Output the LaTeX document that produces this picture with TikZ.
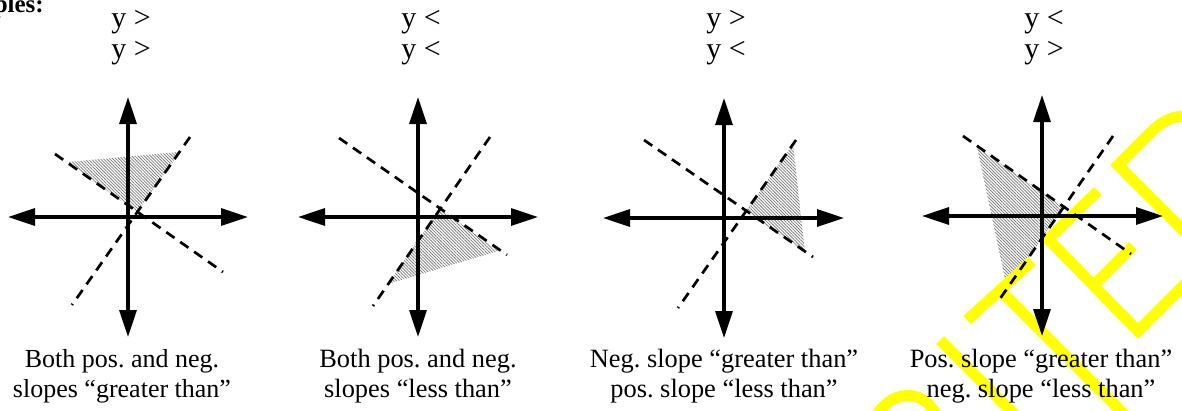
\documentclass[tikz,border=0pt]{standalone}
\usepackage{fontspec}
\setmainfont{Liberation Serif}
\usetikzlibrary{arrows.meta,patterns.meta}
\definecolor{stamp}{RGB}{255,255,0}
\frenchspacing
\begin{document}
\begin{tikzpicture}[x=1pt,y=1pt,
 axis/.style={line width=3.2pt,{Triangle[length=27pt,width=17pt]}-{Triangle[length=27pt,width=17pt]}},
 dline/.style={line width=2.7pt,dash pattern=on 10pt off 7pt},
 hatch/.style={pattern={Lines[angle=-45,distance=2.2pt,line width=0.8pt]},pattern color=black!50},
 ystroke/.style={draw=stamp,line width=11pt},
 toplbl/.style={font=\fontsize{30}{34}\selectfont,anchor=base,inner sep=0pt},
 capt/.style={font=\fontsize{26.4}{30}\selectfont,anchor=base,inner sep=0pt}]
\useasboundingbox (0,0) rectangle (1182,-410);
\clip (0,0) rectangle (1182,-410);
% shaded regions
\fill[hatch] (67,-162) -- (180,-152) -- (137,-212) -- cycle;
\fill[hatch] (440,-208.5) -- (498,-251) -- (388,-284) -- cycle;
\fill[hatch] (746,-211) -- (793,-144) -- (805,-252) -- cycle;
\fill[hatch] (977,-147) -- (1064,-207) -- (1007,-288) -- cycle;
% stamp
\draw[ystroke] (1240,-287) -- (1118,-165) -- (1152,-131) .. controls (1165,-118) and (1180,-113) .. (1198,-118);
\draw[ystroke] (1098,-191) -- (1048,-239) -- (1138,-331) -- (1200,-269);
\draw[ystroke] (1094,-285) -- (1133,-246);
\draw[ystroke] (967,-320) -- (1032,-261);
\draw[ystroke] (1000,-290) -- (1130,-420);
\draw[ystroke] (940,-340) -- (1020,-420);
\draw[ystroke] (876,-416) .. controls (890,-392) and (920,-386) .. (936,-414);
% coordinates
\coordinate (n1a) at (55,-154); \coordinate (n1b) at (223,-272);
\coordinate (q1a) at (190,-137); \coordinate (q1b) at (72,-305);
\coordinate (n2a) at (339,-138); \coordinate (n2b) at (507,-255);
\coordinate (q2a) at (490,-137); \coordinate (q2b) at (373,-306);
\coordinate (n3a) at (644,-140); \coordinate (n3b) at (813,-257);
\coordinate (q3a) at (796,-140); \coordinate (q3b) at (678,-308);
\coordinate (n4a) at (963,-136); \coordinate (n4b) at (1131,-254);
\coordinate (q4a) at (1113,-136); \coordinate (q4b) at (997,-303);
\coordinate (a1l) at (8,-217); \coordinate (a1r) at (248,-217);
\coordinate (a1t) at (128,-97); \coordinate (a1b) at (128,-337);
\coordinate (a2l) at (298,-217); \coordinate (a2r) at (538,-217);
\coordinate (a2t) at (418,-97); \coordinate (a2b) at (418,-337);
\coordinate (a3l) at (603,-218); \coordinate (a3r) at (844,-218);
\coordinate (a3t) at (724,-98); \coordinate (a3b) at (724,-338);
\coordinate (a4l) at (922,-216); \coordinate (a4r) at (1163,-216);
\coordinate (a4t) at (1042,-95); \coordinate (a4b) at (1042,-336);
% dashed boundary lines
\foreach \i in {1,2,3,4}{
  \draw[dline] (n\i a) -- (n\i b);
  \draw[dline] (q\i a) -- (q\i b);
}
% axes
\foreach \i in {1,2,3,4}{
  \draw[axis] (a\i l) -- (a\i r);
  \draw[axis] (a\i t) -- (a\i b);
}
% texts
\node[font=\fontsize{25}{29}\selectfont\bfseries,anchor=base east,inner sep=0pt] (ex) at (44,-12) {Examples:};
\node[toplbl] (t1a) at (131,-27) {y >};
\node[toplbl] (t1b) at (131,-58) {y >};
\node[toplbl] (t2a) at (421,-27) {y <};
\node[toplbl] (t2b) at (421,-58) {y <};
\node[toplbl] (t3a) at (726,-27) {y >};
\node[toplbl] (t3b) at (726,-58) {y <};
\node[toplbl] (t4a) at (1044,-27) {y <};
\node[toplbl] (t4b) at (1044,-58) {y >};
\node[capt,font=\fontsize{26}{30}\selectfont] (c1a) at (122,-367) {Both pos. and neg.};
\node[capt,font=\fontsize{26}{30}\selectfont] (c1b) at (122,-397) {slopes “greater than”};
\node[capt] (c2a) at (418,-367) {Both pos. and neg.};
\node[capt] (c2b) at (418,-397) {slopes “less than”};
\node[capt] (c3a) at (724,-367) {Neg. slope “greater than”};
\node[capt] (c3b) at (724,-397) {pos. slope “less than”};
\node[capt] (c4a) at (1041,-367) {Pos. slope “greater than”};
\node[capt] (c4b) at (1041,-397) {neg. slope “less than”};
\end{tikzpicture}
\end{document}
